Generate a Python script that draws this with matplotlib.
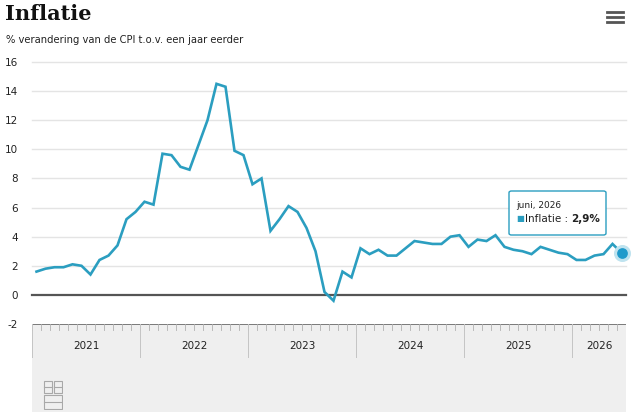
import matplotlib
matplotlib.use("Agg")
import matplotlib.pyplot as plt
from matplotlib.patches import FancyBboxPatch, Rectangle
import numpy as np

years = ["2021", "2022", "2023", "2024", "2025", "2026"]
months_per_year = [12, 12, 12, 12, 12, 6]
inflatie = [
    1.6, 1.8, 1.9, 1.9, 2.1, 2.0, 1.4, 2.4, 2.7, 3.4, 5.2, 5.7,
    6.4, 6.2, 9.7, 9.6, 8.8, 8.6, 10.3, 12.0, 14.5, 14.3, 9.9, 9.6,
    7.6, 8.0, 4.4, 5.2, 6.1, 5.7, 4.6, 3.0, 0.2, -0.4, 1.6, 1.2,
    3.2, 2.8, 3.1, 2.7, 2.7, 3.2, 3.7, 3.6, 3.5, 3.5, 4.0, 4.1,
    3.3, 3.8, 3.7, 4.1, 3.3, 3.1, 3.0, 2.8, 3.3, 3.1, 2.9, 2.8,
    2.4, 2.4, 2.7, 2.8, 3.5, 2.9,
]
yticks = [-2, 0, 2, 4, 6, 8, 10, 12, 14, 16]
tooltip_date = "juni, 2026"
tooltip_label = "Inflatie : "
tooltip_value = "2,9%"

W, H = 633, 412
fig = plt.figure(figsize=(W / 100, H / 100), dpi=100)
fig.patch.set_facecolor("white")

LINE = "#2b9ec0"
x = np.arange(len(inflatie))
n = len(inflatie)

# main axes: x 32..626, y 62(16)..324(-2)
L, R, T, B = 32, 626, 62, 324
ax = fig.add_axes([L / W, 1 - B / H, (R - L) / W, (B - T) / H])
ax.set_xlim(-0.5, n - 0.5)
ax.set_ylim(-2, 16)
for s in ax.spines.values():
    s.set_visible(False)
ax.set_xticks([])
ax.set_yticks(yticks)
ax.set_yticklabels([str(v) for v in yticks], fontsize=7.5, color="#222222")
ax.tick_params(axis="y", length=0, pad=10)
for v in yticks:
    if v == 0:
        ax.axhline(v, color="#555555", lw=1.6, zorder=2, clip_on=False)
    elif v > -2:
        ax.axhline(v, color="#e4e4e4", lw=1.0, zorder=1, clip_on=False)

ax.plot(x, inflatie, color=LINE, lw=1.9, zorder=3, solid_joinstyle="miter", clip_on=False)
ax.scatter([x[-1]], [inflatie[-1]], s=150, color="#bfe3ef", zorder=4, clip_on=False, lw=0)
ax.scatter([x[-1]], [inflatie[-1]], s=60, color="#1f9acb", zorder=5, clip_on=False, lw=0)

# bottom band
bx = fig.add_axes([L / W, 0, (R - L) / W, (H - B) / H])
bx.set_xlim(-0.5, n - 0.5)
bx.set_ylim(H - B, 0)
bx.set_facecolor("#efefef")
for s in bx.spines.values():
    s.set_visible(False)
bx.set_xticks([])
bx.set_yticks([])
bx.axhline(0, color="#666666", lw=1.2)
for k in range(n + 1):
    bx.plot([k - 0.5, k - 0.5], [0, 6], color="#b0b0b0", lw=0.6)
start = 0
for yr, m in zip(years, months_per_year):
    bx.plot([start - 0.5, start - 0.5], [0, 33], color="#c4c4c4", lw=0.7)
    bx.text(start - 0.5 + m / 2, 22, yr, ha="center", va="center",
            fontsize=7.5, color="#222222")
    start += m

# cbs logo-like mark
logo = fig.add_axes([43 / W, 1 - 410 / H, 20 / W, 30 / H])
logo.set_xlim(0, 20)
logo.set_ylim(30, 0)
logo.axis("off")
gc = "#a8a8a8"
for (x0, y0, w, h) in [(1, 1, 8, 12), (11, 1, 8, 12), (1, 15, 18, 14)]:
    logo.add_patch(Rectangle((x0, y0), w, h, fill=False, ec=gc, lw=0.8))
logo.plot([1, 19], [22, 22], color=gc, lw=0.8)
logo.plot([1, 9], [7, 7], color=gc, lw=0.8)
logo.plot([11, 19], [7, 7], color=gc, lw=0.8)

# title
fig.text(5 / W, 1 - 14 / H, "Inflatie", fontsize=15, fontweight="bold",
         color="#111111", va="center", ha="left", family="DejaVu Serif")
fig.text(6 / W, 1 - 40 / H, "% verandering van de CPI t.o.v. een jaar eerder",
         fontsize=7.2, color="#222222", va="center", ha="left")

# menu icon
for yy in (12, 17, 22):
    fig.add_artist(plt.Line2D([607 / W, 623 / W], [1 - yy / H, 1 - yy / H],
                              color="#555555", lw=2.0))

# tooltip
tip = FancyBboxPatch((509 / W, 1 - 235 / H), 97 / W, 44 / H,
                     boxstyle="round,pad=0,rounding_size=0.004",
                     transform=fig.transFigure, fc="white", ec=LINE, lw=1.0, zorder=10)
fig.add_artist(tip)
fig.text(516 / W, 1 - 206 / H, tooltip_date, fontsize=6.5, color="#222222",
         va="center", ha="left", zorder=11)
fig.text(516 / W, 1 - 219 / H, "\u25A0", fontsize=6, color=LINE,
         va="center", ha="left", zorder=11)
t1 = fig.text(525 / W, 1 - 219 / H, tooltip_label, fontsize=7.5, color="#222222",
              va="center", ha="left", zorder=11)
fig.canvas.draw()
bb = t1.get_window_extent()
fig.text(bb.x1 / W, 1 - 219 / H, tooltip_value, fontsize=7.5, color="#222222",
         fontweight="bold", va="center", ha="left", zorder=11)

fig.savefig("out.png", dpi=100)
